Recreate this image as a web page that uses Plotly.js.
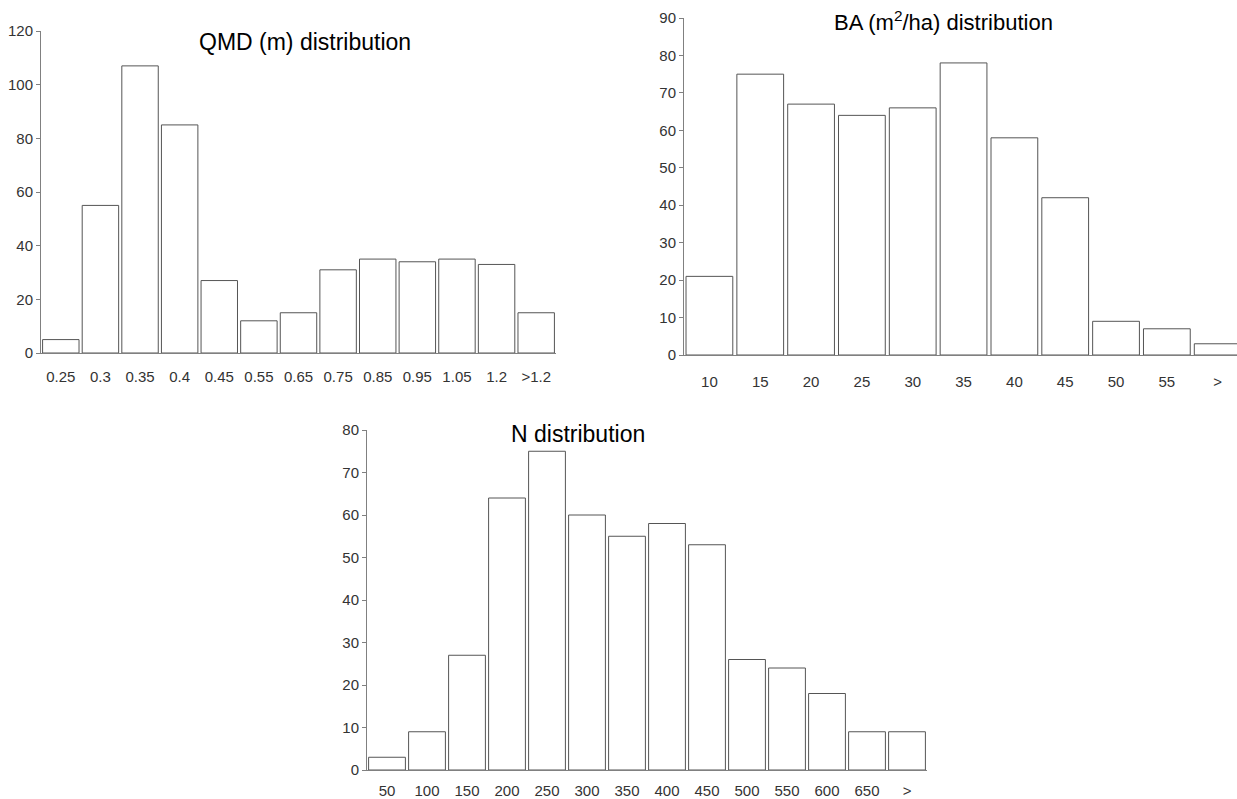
<!DOCTYPE html>
<html><head><meta charset="utf-8">
<script src="https://cdn.plot.ly/plotly-3.0.1.min.js"></script>
<style>html,body{margin:0;padding:0;background:#fff}#c{width:1237px;height:799px}</style>
</head><body><div id="c"></div>
<script>
const qmdCats = ["0.25","0.3","0.35","0.4","0.45","0.55","0.65","0.75","0.85","0.95","1.05","1.2",">1.2"];
const qmdVals = [5,55,107,85,27,12,15,31,35,34,35,33,15];
const baCats = ["10","15","20","25","30","35","40","45","50","55",">"];
const baVals = [21,75,67,64,66,78,58,42,9,7,3];
const nCats = ["50","100","150","200","250","300","350","400","450","500","550","600","650",">"];
const nVals = [3,9,27,64,75,60,55,58,53,26,24,18,9,9];

const W = 1237, H = 799;
const fx = p => p / W, fy = p => 1 - p / H;
const barStyle = {color:"#ffffff", line:{color:"#555555", width:1}};
const FAM = "Liberation Sans, Arial, sans-serif";
const tf = {family:FAM, size:15, color:"#333"};

const traces = [
  {type:"bar", x:qmdCats, y:qmdVals, xaxis:"x", yaxis:"y", marker:barStyle},
  {type:"bar", x:baCats, y:baVals, xaxis:"x2", yaxis:"y2", marker:barStyle},
  {type:"bar", x:nCats, y:nVals, xaxis:"x3", yaxis:"y3", marker:barStyle}
];
function xa(dom, range, so){
  return {type:"category", domain:dom, range:range, showgrid:false, zeroline:false, showline:true, linecolor:"#808080", linewidth:1,
    ticks:"", tickfont:tf, ticklabelstandoff:so, fixedrange:true, tickangle:0};
}
function ya(dom, range, dt){
  return {domain:dom, range:range, dtick:dt, showgrid:false, zeroline:false, showline:true, linecolor:"#808080", linewidth:1,
    ticks:"outside", ticklen:4, tickcolor:"#808080", tickfont:tf, fixedrange:true};
}
const layout = {
  width:W, height:H, margin:{l:0,r:0,t:0,b:0}, showlegend:false, bargap:0.08,
  paper_bgcolor:"#fff", plot_bgcolor:"#fff",
  font:tf,
  xaxis: Object.assign(xa([fx(41), fx(556)], [-0.5, 12.5], 10), {anchor:"y"}),
  yaxis: Object.assign(ya([fy(353), fy(31)], [0,120], 20), {anchor:"x"}),
  xaxis2: Object.assign(xa([fx(684), 1], [-0.5, 10.38], 13), {anchor:"y2"}),
  yaxis2: Object.assign(ya([fy(355), fy(18)], [0,90], 10), {anchor:"x2"}),
  xaxis3: Object.assign(xa([fx(367), fx(927)], [-0.5, 13.5], 7), {anchor:"y3"}),
  yaxis3: Object.assign(ya([fy(770), fy(430)], [0,80], 10), {anchor:"x3"}),
  annotations:[
    {text:"QMD (m) distribution", xref:"paper", yref:"paper", x:fx(305), y:fy(42), showarrow:false,
     font:{family:FAM, size:23, color:"#000"}, xanchor:"center", yanchor:"middle"},
    {text:"BA (m<sup>2</sup>/ha) distribution", xref:"paper", yref:"paper", x:fx(943), y:fy(21), showarrow:false,
     font:{family:FAM, size:22, color:"#000"}, xanchor:"center", yanchor:"middle"},
    {text:"N distribution", xref:"paper", yref:"paper", x:fx(578), y:fy(434), showarrow:false,
     font:{family:FAM, size:23, color:"#000"}, xanchor:"center", yanchor:"middle"}
  ]
};
Plotly.newPlot("c", traces, layout, {displayModeBar:false, staticPlot:true});
</script></body></html>
